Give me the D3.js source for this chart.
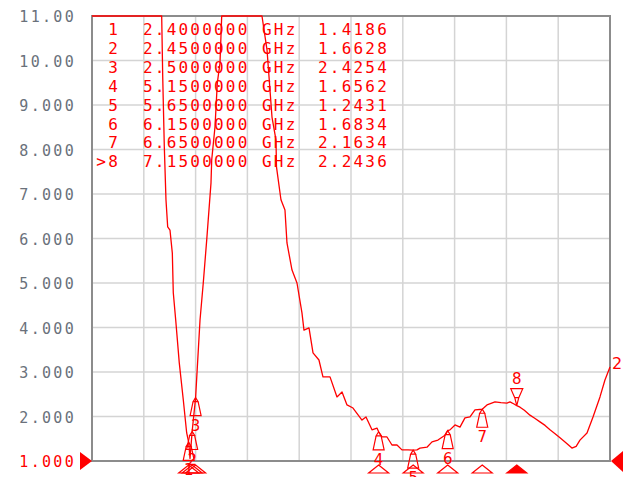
<!DOCTYPE html>
<html>
<head>
<meta charset="utf-8">
<script src="https://cdn.jsdelivr.net/npm/d3@7"></script>
<style>
	body { margin: 0; background: #fff; }
	svg { display: block; }
</style>
</head>
<body>
<script>
// trace 2 : VSWR sweep, 1.0 - 8.5 GHz (values above 11 run off the top of the screen)
var freqGHz = [1.000, 2.009, 2.024, 2.047, 2.071, 2.096, 2.129, 2.163, 2.177, 2.212, 2.264, 2.322, 2.371,
	2.400, 2.419, 2.450, 2.500, 2.564, 2.611, 2.661, 2.723, 2.733, 2.781, 2.814, 2.853, 2.878, 3.461,
	3.534, 3.606, 3.664, 3.671, 3.736, 3.794, 3.823, 3.896, 3.968, 4.040, 4.069, 4.142, 4.200, 4.286,
	4.344, 4.446, 4.547, 4.620, 4.692, 4.779, 4.909, 4.967, 5.054, 5.126, 5.150, 5.199, 5.271, 5.343,
	5.416, 5.488, 5.575, 5.650, 5.705, 5.749, 5.850, 5.923, 6.009, 6.111, 6.150, 6.183, 6.256, 6.328,
	6.400, 6.473, 6.545, 6.650, 6.719, 6.835, 6.920, 7.008, 7.052, 7.110, 7.150, 7.197, 7.260, 7.341,
	7.410, 7.486, 7.560, 7.631, 7.700, 7.776, 7.870, 7.949, 8.010, 8.065, 8.167, 8.254, 8.355, 8.427, 8.500];
var vswr = [11.5, 11.5, 9.63, 8.06, 6.87, 6.26, 6.19, 5.67, 4.78, 4.17, 3.20, 2.37, 1.63,
	1.4186, 1.06, 1.6628, 2.4254, 4.17, 5.00, 5.97, 7.25, 7.76, 8.51, 9.49, 9.94, 11.5, 11.5,
	10.24, 8.73, 8.21, 7.61, 6.87, 6.64, 5.90, 5.29, 5.00, 4.33, 3.94, 3.99, 3.43, 3.27,
	2.89, 2.89, 2.44, 2.55, 2.26, 2.19, 1.92, 1.99, 1.70, 1.74, 1.6562, 1.54, 1.54, 1.36,
	1.36, 1.25, 1.25, 1.2431, 1.25, 1.29, 1.31, 1.43, 1.47, 1.58, 1.6834, 1.70, 1.81, 1.76,
	1.97, 1.99, 2.15, 2.1634, 2.26, 2.33, 2.31, 2.30, 2.33, 2.28, 2.2436, 2.21, 2.14, 2.03,
	1.96, 1.88, 1.80, 1.70, 1.62, 1.52, 1.40, 1.29, 1.33, 1.47, 1.63, 1.99, 2.44, 2.82, 3.11];

// marker table
var markerId = ["1", "2", "3", "4", "5", "6", "7", "8"];
var markerFreq = [2.40, 2.45, 2.50, 5.15, 5.65, 6.15, 6.65, 7.15];
var markerFreqText = ["2.4000000", "2.4500000", "2.5000000", "5.1500000", "5.6500000", "6.1500000", "6.6500000", "7.1500000"];
var markerVswr = [1.4186, 1.6628, 2.4254, 1.6562, 1.2431, 1.6834, 2.1634, 2.2436];
var activeMarker = "8";

// scale
var yTickValues = [11, 10, 9, 8, 7, 6, 5, 4, 3, 2, 1];
var yTickLabels = ["11.00", "10.00", "9.000", "8.000", "7.000", "6.000", "5.000", "4.000", "3.000", "2.000", "1.000"];
var freqStart = 1.0, freqStop = 8.5, xDivisions = 10;
var refValue = 1.0;

var W = 627, H = 477;
var red = "#ff0000", grey = "#6a717b";
var mono = "'DejaVu Sans Mono', 'Liberation Mono', monospace";

var svg = d3.select("body").append("svg")
		.attr("width", W)
		.attr("height", H);

var x = d3.scaleLinear().domain([freqStart, freqStop]).range([92, 610]);
var y = d3.scaleLinear().domain([1, 11]).range([461, 16]).clamp(true);

// grid
var xGrid = d3.range(1, xDivisions).map(function(i){ return freqStart + i * (freqStop - freqStart) / xDivisions; });
svg.append("g").selectAll("line.vx")
		.data(xGrid)
		.enter()
		.append("line")
		.attr("x1", function(d){ return x(d); })
		.attr("x2", function(d){ return x(d); })
		.attr("y1", y(11))
		.attr("y2", y(1))
		.style("stroke", "#d4d4d4")
		.style("stroke-width", 1.5);

svg.append("g").selectAll("line.hy")
		.data(yTickValues.slice(1, -1))
		.enter()
		.append("line")
		.attr("x1", x(freqStart))
		.attr("x2", x(freqStop))
		.attr("y1", function(d){ return y(d); })
		.attr("y2", function(d){ return y(d); })
		.style("stroke", "#d4d4d4")
		.style("stroke-width", 1.5);

// frame
svg.append("rect")
		.attr("x", x(freqStart))
		.attr("y", y(11))
		.attr("width", x(freqStop) - x(freqStart))
		.attr("height", y(1) - y(11))
		.style("fill", "none")
		.style("stroke", "#8c8c8c")
		.style("stroke-width", 2);

// y labels
svg.append("g").selectAll("text")
		.data(yTickValues)
		.enter()
		.append("text")
		.attr("x", 76)
		.attr("y", function(d){ return y(d) + 6; })
		.attr("text-anchor", "end")
		.style("font-family", mono)
		.style("font-size", "15px")
		.style("letter-spacing", "2.3px")
		.style("fill", function(d){ return d === refValue ? red : grey; })
		.text(function(d, i){ return yTickLabels[i]; });

// reference arrows
svg.append("path")
		.attr("d", "M80," + (y(refValue) - 9) + "L92," + y(refValue) + "L80," + (y(refValue) + 9) + "Z")
		.style("fill", red);
svg.append("path")
		.attr("d", "M623," + (y(refValue) - 10) + "L611," + y(refValue) + "L623," + (y(refValue) + 11) + "Z")
		.style("fill", red);

// trace
var line = d3.line()
		.x(function(d){ return x(d[0]); })
		.y(function(d){ return y(d[1]); });

svg.append("path")
		.datum(d3.zip(freqGHz, vswr))
		.attr("d", line)
		.style("fill", "none")
		.style("stroke", red)
		.style("stroke-width", 1.3)
		.style("stroke-linejoin", "round");

svg.append("text")
		.attr("x", 612)
		.attr("y", y(vswr[vswr.length - 1]) + 2)
		.style("font-family", "'DejaVu Sans', sans-serif")
		.style("font-size", "16px")
		.style("fill", red)
		.text("2");

// markers on the trace
var markers = markerId.map(function(id, i){
	return { id: id, f: markerFreq[i], v: markerVswr[i], active: id === activeMarker };
});

var mk = svg.append("g").selectAll("g")
		.data(markers)
		.enter()
		.append("g")
		.attr("transform", function(d){ return "translate(" + x(d.f) + "," + y(d.v) + ")"; });

mk.append("path")
		.attr("d", function(d){
			if (d.active) return "M0,0L-2,-8L2,-8Z M-2,-8L-6,-17L6,-17L2,-8";
			return "M0,0L-2.5,4L2.5,4Z M-2.5,4L-5.5,18L5.5,18L2.5,4";
		})
		.style("fill", "none")
		.style("stroke", red)
		.style("stroke-width", 1.2);

mk.append("text")
		.attr("y", function(d){ return d.active ? -22 : 33; })
		.attr("text-anchor", "middle")
		.style("font-family", "'DejaVu Sans', sans-serif")
		.style("font-size", "15px")
		.style("fill", red)
		.text(function(d){ return d.id; });

// markers under the axis
svg.append("g").selectAll("path")
		.data(markers)
		.enter()
		.append("path")
		.attr("d", function(d){
			var cx = x(d.f);
			return "M" + cx + ",465L" + (cx + 10) + ",473L" + (cx - 10) + ",473Z";
		})
		.style("fill", function(d){ return d.active ? red : "none"; })
		.style("stroke", red)
		.style("stroke-width", 1.2);

// marker table
var rows = svg.append("g").selectAll("g")
		.data(markers)
		.enter()
		.append("g")
		.attr("transform", function(d, i){ return "translate(0," + (35 + i * 18.9) + ")"; })
		.style("font-family", mono)
		.style("font-size", "16px")
		.style("letter-spacing", "2.2px")
		.style("fill", red);

rows.append("text")
		.attr("x", 120)
		.attr("text-anchor", "end")
		.text(function(d){ return (d.active ? ">" : "") + d.id; });
rows.append("text")
		.attr("x", 143)
		.text(function(d, i){ return markerFreqText[i]; });
rows.append("text")
		.attr("x", 262)
		.text("GHz");
rows.append("text")
		.attr("x", 318)
		.text(function(d){ return d.v.toFixed(4); });
</script>
</body>
</html>
